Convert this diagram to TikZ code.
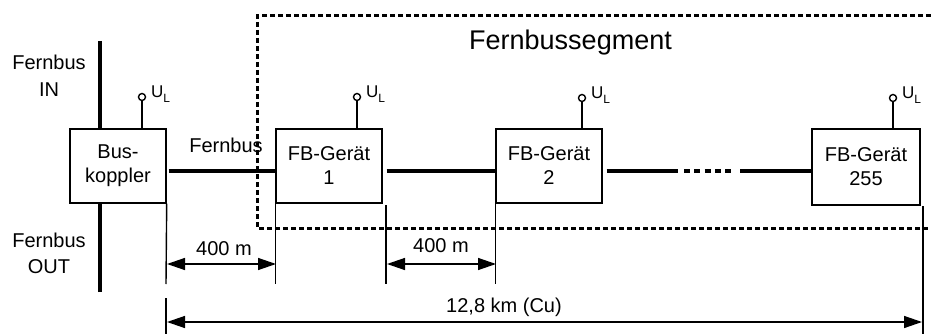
\documentclass[tikz,border=0pt]{standalone}
\usepackage{fontspec}
\setmainfont{Liberation Sans}
\usetikzlibrary{arrows.meta}
\begin{document}
\begin{tikzpicture}[x=1pt,y=-1pt,
  box/.style={draw, line width=1.4pt, align=center, inner sep=0pt, font=\fontsize{20}{24}\selectfont},
  bus/.style={line width=4.5pt},
  thinl/.style={line width=1.4pt},
  term/.style={circle, draw, line width=1.4pt, minimum size=7pt, inner sep=0pt},
  ul/.style={anchor=base west, inner sep=0pt, font=\fontsize{17}{19}\selectfont},
  lbl/.style={anchor=base, inner sep=0pt, font=\fontsize{20}{24}\selectfont},
  side/.style={align=center, inner sep=0pt},
  dimarr/.style={line width=1.4pt, {Triangle[length=18pt,width=12pt]}-{Triangle[length=18pt,width=12pt]}},
  seg/.style={line width=3pt, dash pattern=on 5pt off 3pt},
]
\useasboundingbox (0,0) rectangle (931,334);

% dashed segment frame (open to the right)
\coordinate (sa) at (931,16);
\coordinate (sb) at (257,16);
\coordinate (sc) at (257,228);
\coordinate (sd) at (931,228);
\draw[seg] (sa) -- (sb) -- (sc) -- (sd);

% boxes
\node[box, minimum width=96pt, minimum height=74pt] (bk) at (118,166) {Bus-\\koppler};
\node[box, minimum width=106pt, minimum height=74pt] (fb1) at (329,166) {FB-Gerät\\1};
\node[box, minimum width=106pt, minimum height=74pt] (fb2) at (549,166) {FB-Gerät\\2};
\node[box, minimum width=108pt, minimum height=76pt] (fb255) at (866,167) {FB-Gerät\\255};

% supply terminals
\node[term] (u0) at (142,97) {};
\node[term] (u1) at (357,97) {};
\node[term] (u2) at (582,98) {};
\node[term] (u3) at (893,98) {};
\draw[thinl] (u0.south) -- (u0.south |- bk.north);
\draw[thinl] (u1.south) -- (u1.south |- fb1.north);
\draw[thinl] (u2.south) -- (u2.south |- fb2.north);
\draw[thinl] (u3.south) -- (u3.south |- fb255.north);
\node[ul] (u0l) at (151,98) {U\raisebox{-5pt}{\fontsize{12}{13}\selectfont L}};
\node[ul] (u1l) at (366,98) {U\raisebox{-5pt}{\fontsize{12}{13}\selectfont L}};
\node[ul] (u2l) at (591,99) {U\raisebox{-5pt}{\fontsize{12}{13}\selectfont L}};
\node[ul] (u3l) at (902,99) {U\raisebox{-5pt}{\fontsize{12}{13}\selectfont L}};

% vertical Fernbus at Buskoppler
\coordinate (inTop) at (100,41);
\coordinate (outBot) at (100,292);
\draw[bus] (inTop) -- (inTop |- bk.north);
\draw[bus] (outBot) -- (outBot |- bk.south);

% horizontal bus
\coordinate (by) at (0,171);
\coordinate (m1) at (678,171);
\coordinate (m2) at (684,171);
\coordinate (m3) at (731,171);
\coordinate (m4) at (740,171);
\draw[bus, shorten <=2pt] (bk.east |- by) -- (fb1.west |- by);
\draw[bus, shorten <=4pt] (fb1.east |- by) -- (fb2.west |- by);
\draw[bus, shorten <=4pt] (fb2.east |- by) -- (m1);
\draw[bus, dash pattern=on 6pt off 4.3pt] (m2) -- (m3);
\draw[bus] (m4) -- (fb255.west |- by);

% texts
\node[side, font=\fontsize{20}{27}\selectfont] (fin) at (49,76) {Fernbus\\IN};
\node[side, font=\fontsize{20}{26}\selectfont] (fout) at (49,253) {Fernbus\\OUT};
\node[lbl] (fbl) at (226,153) {Fernbus};
\node[lbl, font=\fontsize{27}{30}\selectfont] (segl) at (570.5,50) {Fernbussegment};

% dimension ticks
\coordinate (t0b) at (166,284);
\coordinate (t0c) at (166,298);
\coordinate (t0d) at (166,334);
\coordinate (t2a) at (386,205);
\coordinate (t2b) at (386,284);
\coordinate (t4a) at (923,206);
\coordinate (t4b) at (923,334);
\draw[thinl] (bk.south east) -- (t0b);
\draw[thinl] (t0c) -- (t0d);
\draw[thinl] (fb1.south west) -- (fb1.south west |- t0b);
\draw[thinl] (t2a) -- (t2b);
\draw[thinl] (fb2.south west) -- (fb2.south west |- t0b);
\draw[thinl] (t4a) -- (t4b);

% dimension arrows
\coordinate (a0) at (167,264);
\coordinate (a1) at (276,264);
\coordinate (a2) at (387,264);
\coordinate (a3) at (496,264);
\coordinate (b0) at (167,322);
\coordinate (b1) at (922,322);
\draw[dimarr] (a0) -- (a1);
\draw[dimarr] (a2) -- (a3);
\draw[dimarr] (b0) -- (b1);
\node[lbl] (d1) at (224,255) {400 m};
\node[lbl] (d2) at (441,252) {400 m};
\node[lbl] (d3) at (504,312) {12,8 km (Cu)};
\end{tikzpicture}
\end{document}
